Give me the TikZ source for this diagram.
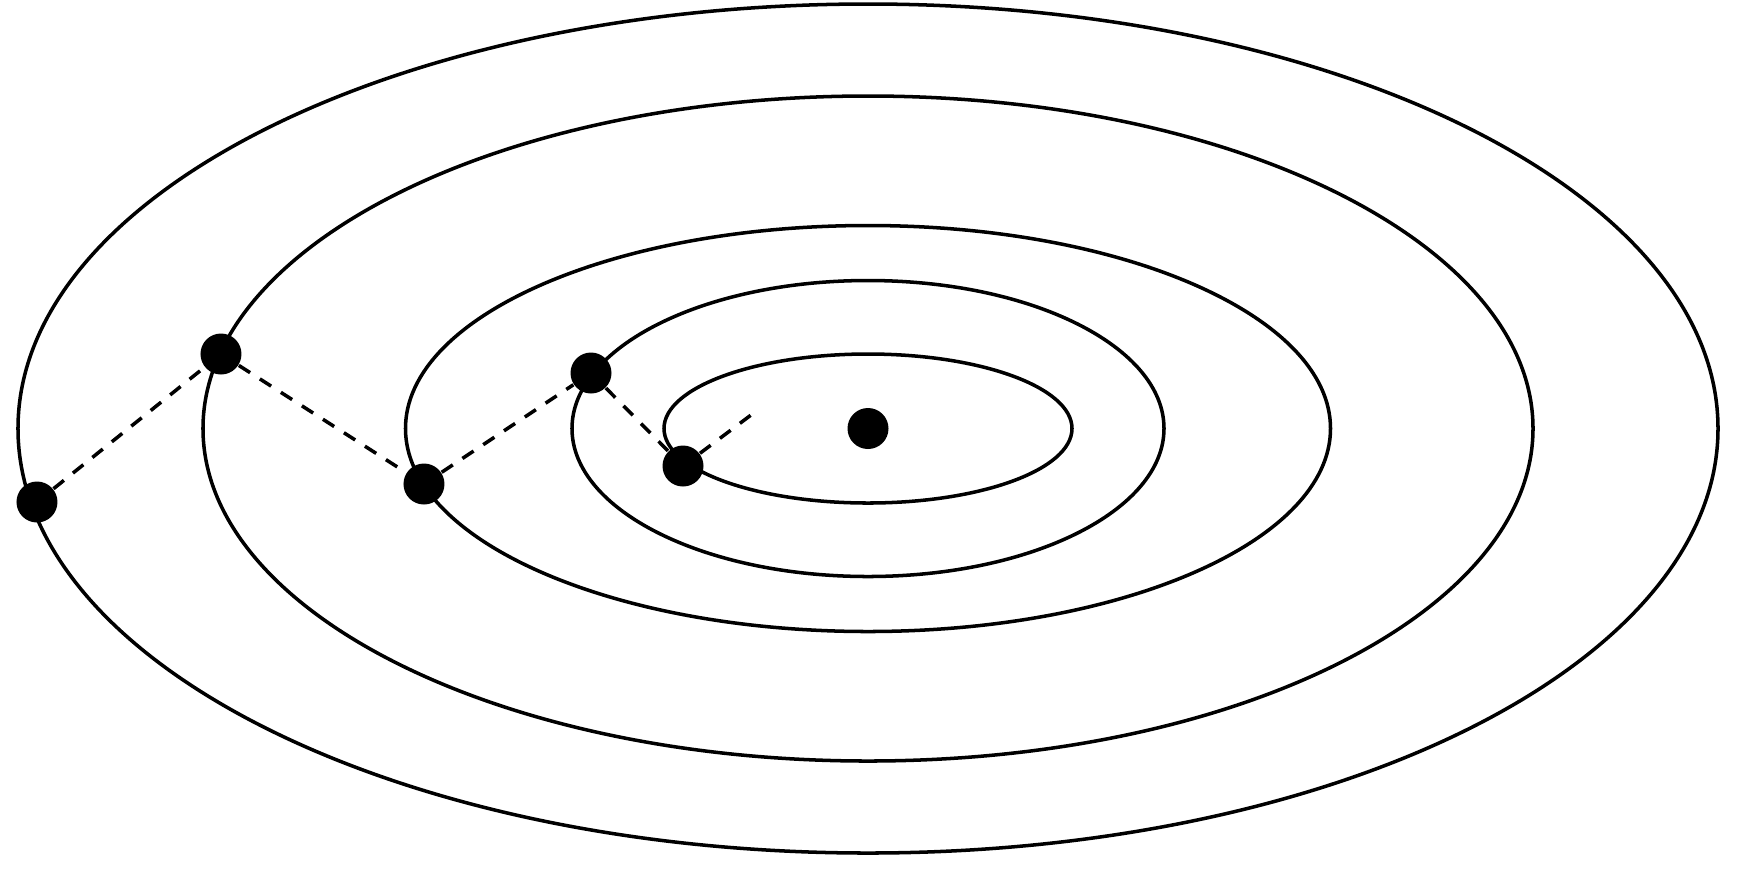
\documentclass[tikz,border=0pt]{standalone}
\usepackage{tikz}
\usetikzlibrary{scopes}

\begin{document}
\begin{tikzpicture}
  [iterate/.style={shape=circle,fill=black,
         inner sep=0pt, minimum size=4.1mm},
  auto
  ]
  \useasboundingbox (-8.68,-4.395) rectangle (8.74,4.285);
   \begin{scope}[line width=1pt]
  \draw (0,0) ellipse [x radius=8.5, y radius=4.245];
  \draw (0,0) ellipse [x radius=6.65, y radius=3.325];
  \draw (0,0) ellipse [x radius=4.625, y radius=2.03];
  \draw (0,0) ellipse [x radius=2.96, y radius=1.48];
  \draw (0,0) ellipse [x radius=2.04, y radius=0.745];
   \end{scope}
  \node (opt) [iterate] at (0, 0) {};
 \path
   (-8.31, -0.735) node (x0) [iterate] {}
  ++(1.84, 1.48)   node (x1) [iterate] {}
  ++(2.03, -1.30)  node (x2) [iterate] {}
  ++(1.67, 1.11)   node (x3) [iterate] {}
  ++(0.92, -0.93)  node (x4) [iterate] {}
  ++(0.70, 0.525)  coordinate (x5)
   ;
   \begin{scope}[line width=1pt, dash pattern=on 3.8pt off 3.3pt]
   \draw (x0) to (x1);
   \draw (x1) to (x2);
   \draw (x2) to (x3);
   \draw (x3) to (x4);
   \draw (x4) to (x5);
   \end{scope}

\end{tikzpicture}
\end{document}
